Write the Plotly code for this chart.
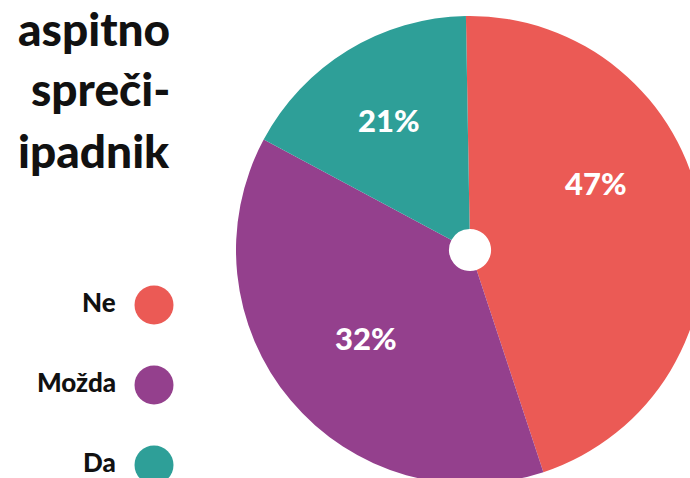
import plotly.graph_objects as go

# ---- data ----
categories = ["Ne", "Možda", "Da"]
shares = [45.2, 37.9, 16.9]          # slice sizes as drawn
pct_labels = ["47%", "32%", "21%"]   # printed labels
colors = ["#EB5A55", "#94408D", "#2E9F98"]
title_lines = ["aspitno", "spreči-", "ipadnik"]   # visible part of the cropped title

W, H = 720, 500
FONT = "Lato Black, Lato"

def px(x):
    return x / W

def py(y):
    return 1 - y / H

fig = go.Figure()
fig.add_trace(go.Pie(
    labels=categories,
    values=shares,
    textinfo="none",
    marker=dict(colors=colors, line=dict(width=0)),
    hole=0.09,
    sort=False,
    direction="clockwise",
    rotation=-1,
    domain=dict(x=[px(236), px(704)], y=[py(484), py(16)]),
    showlegend=False,
    hoverinfo="label+text",
    hovertext=pct_labels,
))

annotations = []
shapes = []
# slice labels
label_pos = [(596, 183), (366, 338), (389, 120)]
for lab, (lx, ly) in zip(pct_labels, label_pos):
    annotations.append(dict(
        text=lab, x=px(lx), y=py(ly), xref="paper", yref="paper",
        xanchor="center", yanchor="middle", showarrow=False,
        font=dict(family=FONT, size=31, color="white", weight=900),
    ))

# title (cropped on the left)
for i, line in enumerate(title_lines):
    annotations.append(dict(
        text=line, x=px(172), y=py(28 + 61 * i), xref="paper", yref="paper",
        xanchor="right", yanchor="middle", showarrow=False,
        font=dict(family=FONT, size=46, color="#111111", weight=900),
    ))

# legend: labels + circles
leg_y0, leg_dy = 305, 80
for i, (cat, col) in enumerate(zip(categories, colors)):
    yc = leg_y0 + leg_dy * i
    annotations.append(dict(
        text=cat, x=px(118), y=py(yc - 3), xref="paper", yref="paper",
        xanchor="right", yanchor="middle", showarrow=False,
        font=dict(family=FONT, size=26, color="#111111", weight=900),
    ))
    r = 19.5
    shapes.append(dict(
        type="circle", xref="paper", yref="paper",
        x0=px(154 - r), x1=px(154 + r), y0=py(yc + r), y1=py(yc - r),
        fillcolor=col, line=dict(width=0),
    ))

fig.update_layout(
    width=W, height=H,
    margin=dict(l=0, r=0, t=0, b=0),
    paper_bgcolor="white", plot_bgcolor="white",
    annotations=annotations, shapes=shapes,
)

fig.write_html(
    "out.html",
    config={"displayModeBar": False},
    post_script="document.body.style.margin='0';document.body.style.overflow='hidden';",
)
